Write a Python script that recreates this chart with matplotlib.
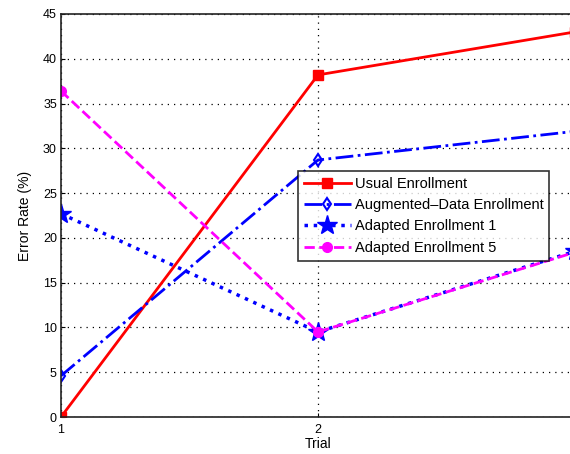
import matplotlib
matplotlib.use('Agg')
import matplotlib.pyplot as plt

# Datos
trials = [1, 2, 3]
usual = [0.0, 38.2, 43.0]
augmented = [4.6, 28.7, 31.9]
adapted1 = [22.7, 9.5, 18.5]
adapted5 = [36.4, 9.5, 18.4]

plt.rcParams['font.family'] = ['Liberation Sans', 'DejaVu Sans']

fig = plt.figure(figsize=(5.70, 4.54), dpi=100)
# El eje derecho queda fuera de la imagen (recortado como en el original)
ax = fig.add_axes([61 / 570, 37 / 454, 514 / 570, 403 / 454])

ax.plot(trials, usual, color='#ff0000', linestyle='-', linewidth=2,
        marker='s', markersize=7, markerfacecolor='#ff0000', label='Usual Enrollment')
ax.plot(trials, augmented, color='#0000ff', linestyle='-.', linewidth=2,
        marker='d', markersize=6, markerfacecolor='none', markeredgewidth=1.5,
        label='Augmented\u2013Data Enrollment')
ax.plot(trials, adapted1, color='#0000ff', linestyle=':', linewidth=2.5,
        marker='*', markersize=15, markerfacecolor='#0000ff', label='Adapted Enrollment 1')
ax.plot(trials, adapted5, color='#ff00ff', linestyle='--', linewidth=2,
        marker='o', markersize=7, markerfacecolor='#ff00ff', label='Adapted Enrollment 5')

ax.set_xlim(1, 3)
ax.set_ylim(0, 45)
# solo 1 y 2 quedan dentro de la imagen
ax.set_xticks([1, 2])
ax.set_yticks(range(0, 46, 5))
ax.tick_params(labelsize=9, direction='in', length=3, color='black', pad=3)
ax.tick_params(axis='x', pad=5)
ax.grid(True, color='black', linestyle=(0, (1, 4)), linewidth=0.9)
for s in ax.spines.values():
    s.set_linewidth(1.2)
    s.set_color('#222222')

ax.set_xlabel('Trial', fontsize=10, labelpad=1)
ax.set_ylabel('Error Rate (%)', fontsize=10, labelpad=8)

leg = ax.legend(loc='upper left', bbox_to_anchor=(237 / 514, (417 - 171) / 403),
                fontsize=10.5, frameon=True, fancybox=False, edgecolor='black',
                borderpad=0.4, labelspacing=0.5, handlelength=3.2, handletextpad=0.3,
                borderaxespad=0)
leg.get_frame().set_linewidth(1.2)

fig.savefig('out.png', dpi=100)
